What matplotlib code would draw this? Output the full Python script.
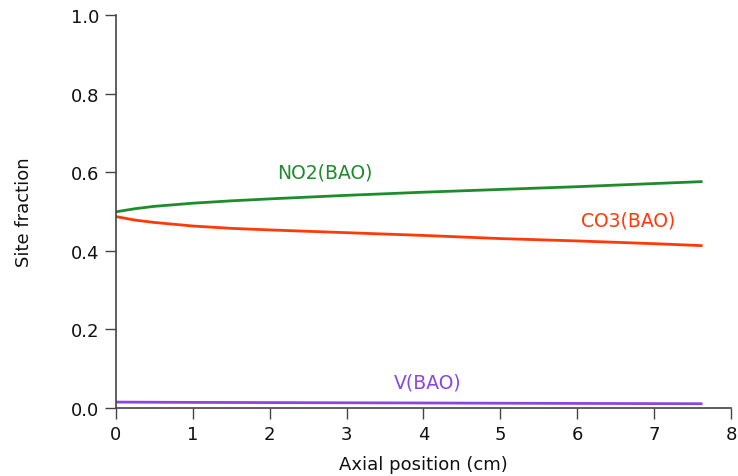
import matplotlib
matplotlib.use("Agg")
import matplotlib.pyplot as plt
import numpy as np

# Axial positions (cm) and site fractions on BAO
position = [0.0, 0.25, 0.5, 1.0, 1.5, 2.0, 3.0, 4.0, 5.0, 6.0, 7.0, 7.63]
no2_bao = [0.499, 0.507, 0.513, 0.521, 0.527, 0.532, 0.541, 0.549, 0.556, 0.563, 0.571, 0.576]
co3_bao = [0.487, 0.478, 0.472, 0.463, 0.457, 0.453, 0.446, 0.439, 0.431, 0.425, 0.418, 0.413]
v_bao = [0.015, 0.0148, 0.0146, 0.0142, 0.014, 0.0137, 0.0132, 0.0127, 0.0121, 0.0116, 0.0111, 0.0108]

series_names = ["NO2(BAO)", "CO3(BAO)", "V(BAO)"]
colors = ["#1e8c2c", "#ff3a08", "#8a47e0"]
label_pos = [(2.72, 0.6), (6.66, 0.478), (4.06, 0.066)]

plt.rcParams["font.family"] = ["DejaVu Sans"]

fig = plt.figure(figsize=(7.38, 4.77), dpi=100)
ax = fig.add_axes([0.157, 0.1426, 0.8335, 0.824])

for ys, c, name, (lx, ly) in zip([no2_bao, co3_bao, v_bao], colors, series_names, label_pos):
    ax.plot(position, ys, color=c, lw=2.0, solid_capstyle="butt")
    ax.text(lx, ly, name, color=c, fontsize=13.5, ha="center", va="center")

ax.set_xlim(0, 8)
ax.set_ylim(0, 1.0)
ax.set_xticks(range(0, 9))
ax.set_yticks(np.arange(0, 1.01, 0.2))
ax.set_yticklabels([f"{v:.1f}" for v in np.arange(0, 1.01, 0.2)])

for s in ["top", "right"]:
    ax.spines[s].set_visible(False)
for s in ["left", "bottom"]:
    ax.spines[s].set_color("#444444")
    ax.spines[s].set_linewidth(1.2)

ax.tick_params(direction="out", length=8, width=1.0, color="#444444",
               labelsize=13, labelcolor="#111111", pad=4)

ax.set_xlabel("Axial position (cm)", fontsize=13, color="#111111", labelpad=9)
ax.set_ylabel("Site fraction", fontsize=13, color="#111111", labelpad=27)

fig.savefig("out.png", dpi=100)
